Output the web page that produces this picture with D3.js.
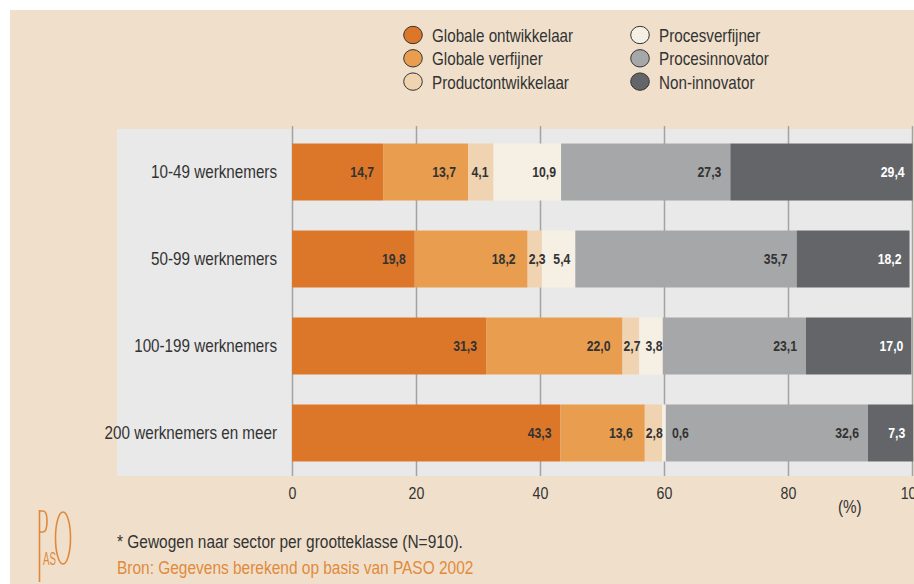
<!DOCTYPE html>
<html>
<head>
<meta charset="utf-8">
<script src="https://cdnjs.cloudflare.com/ajax/libs/d3/7.8.5/d3.min.js"></script>
<style>
  body { margin: 0; background: #fff; }
  svg { display: block; font-family: "Liberation Sans", Arial, sans-serif; }
  .tick line { stroke: #a3a3a3; stroke-width: 1.5; }
  .tick text { fill: #333; font-size: 16.8px; font-family: "Liberation Sans", Arial, sans-serif; }
  path.domain { stroke: none; fill: none; }
  text.cat { fill: #333; font-size: 18px; }
  text.val { font-size: 14.5px; font-weight: bold; }
  text.leg { fill: #333; font-size: 18px; }
</style>
</head>
<body>
<svg width="914" height="584"></svg>
<script>
var categories = ["10-49 werknemers", "50-99 werknemers", "100-199 werknemers", "200 werknemers en meer"];
var seriesNames = ["Globale ontwikkelaar", "Globale verfijner", "Productontwikkelaar", "Procesverfijner", "Procesinnovator", "Non-innovator"];
var globaleOntwikkelaar = [14.7, 19.8, 31.3, 43.3];
var globaleVerfijner = [13.7, 18.2, 22.0, 13.6];
var productontwikkelaar = [4.1, 2.3, 2.7, 2.8];
var procesverfijner = [10.9, 5.4, 3.8, 0.6];
var procesinnovator = [27.3, 35.7, 23.1, 32.6];
var nonInnovator = [29.4, 18.2, 17.0, 7.3];
var xTicks = [0, 20, 40, 60, 80, 100];
var colors = ["#dc772a", "#e89d4f", "#f0d3b0", "#f6efe4", "#a6a7a9", "#636569"];

var seriesValues = [globaleOntwikkelaar, globaleVerfijner, productontwikkelaar, procesverfijner, procesinnovator, nonInnovator];
// how far the value label sits before the end of its segment
var labelOffset = [9, 12, 5, 5, 9, 8];
// the original uses a condensed face; squeeze a normal one
var K = 0.845;

function place(sel, x, y) {
  return sel.attr("transform", "translate(" + x + "," + y + ") scale(" + K + ",1)");
}

var svg = d3.select("svg");

// background
svg.append("rect").attr("x", 10).attr("y", 10).attr("width", 904).attr("height", 574).attr("fill", "#f0e0cb");
svg.append("rect").attr("x", 117).attr("y", 129).attr("width", 795).attr("height", 347).attr("fill", "#e9e9e9");

var xScale = d3.scaleLinear().domain([0, 100]).range([292, 912]);
var yScale = d3.scaleBand().domain(categories).range([129, 476]).paddingInner(0.345).paddingOuter(0.167);

var xAxis = d3.axisBottom(xScale)
  .tickValues(xTicks)
  .tickSize(350)
  .tickPadding(11)
  .tickFormat(d3.format("d"));

var axisG = svg.append("g").attr("transform", "translate(0,126)").call(xAxis);
axisG.selectAll(".tick").filter(d => d === 0).select("line").attr("stroke", "#222").attr("stroke-width", 2);
axisG.selectAll(".tick text").attr("transform", "scale(" + K + ",1)");

// stacked bars
var rows = categories.map((c, i) => {
  var row = { cat: c };
  seriesNames.forEach((s, j) => { row[s] = seriesValues[j][i]; });
  return row;
});
var stack = d3.stack().keys(seriesNames)(rows);

stack.forEach((layer, j) => {
  svg.append("g").selectAll("rect").data(layer).join("rect")
    .attr("x", d => xScale(d[0]))
    .attr("y", d => yScale(d.data.cat))
    .attr("width", d => xScale(d[1]) - xScale(d[0]))
    .attr("height", yScale.bandwidth())
    .attr("fill", colors[j]);
});

// value labels, kept from running into the label before them
var lastEnd = categories.map(() => 0);
stack.forEach((layer, j) => {
  svg.append("g").selectAll("text").data(layer).join("text")
    .attr("class", "val")
    .attr("text-anchor", "end")
    .attr("fill", j === 5 ? "#fff" : "#333")
    .text(d => d3.format(".1f")(d[1] - d[0]).replace(".", ","))
    .each(function(d, i) {
      var x0 = xScale(d[0]), x1 = xScale(d[1]);
      var w = this.getComputedTextLength() * K;
      var x;
      if (x1 - x0 < 10) {
        x = x1 + 6 + w;
      } else {
        x = Math.max(x1 - labelOffset[j], x0 + w + 1, lastEnd[i] + 5 + w);
      }
      place(d3.select(this), x, yScale(d.data.cat) + yScale.bandwidth() / 2 + 5);
      lastEnd[i] = x;
    });
});

// category labels
svg.append("g").selectAll("text").data(categories).join("text")
  .attr("class", "cat")
  .attr("text-anchor", "end")
  .text(d => d)
  .each(function(d) { place(d3.select(this), 277, yScale(d) + yScale.bandwidth() / 2 + 6); });

place(svg.append("text").attr("class", "cat").text("(%)"), 838, 513);

// legend
var legend = svg.append("g");
seriesNames.forEach((s, i) => {
  var col = Math.floor(i / 3), row = i % 3;
  var lx = 413 + col * 227, ly = 35 + row * 23.3;
  legend.append("ellipse").attr("cx", lx).attr("cy", ly).attr("rx", 9.3).attr("ry", 8.7)
    .attr("fill", colors[i]).attr("stroke", "#333").attr("stroke-width", 1);
  place(legend.append("text").attr("class", "leg").text(s), lx + 19, ly + 7);
});

// footnote and source
place(svg.append("text").attr("fill", "#333").attr("font-size", "18.3px")
  .text("* Gewogen naar sector per grootteklasse (N=910)."), 117, 548);
place(svg.append("text").attr("fill", "#e08a3c").attr("font-size", "18.3px")
  .text("Bron: Gegevens berekend op basis van PASO 2002"), 117, 574);

// PASO logo
var logo = svg.append("g").attr("stroke", "#e0883a").attr("fill", "none").attr("stroke-width", 1.6);
logo.append("line").attr("x1", 39.5).attr("y1", 510).attr("x2", 39.5).attr("y2", 582);
logo.append("path").attr("d", "M39.5,511 L43,511 Q47,511 47,521 Q47,532 43,532 L39.5,532");
logo.append("ellipse").attr("cx", 63).attr("cy", 538).attr("rx", 7.5).attr("ry", 26);
svg.append("text").attr("x", 43).attr("y", 565).attr("fill", "#e0883a").attr("font-size", "19px")
  .attr("textLength", 13).attr("lengthAdjust", "spacingAndGlyphs").text("AS");
</script>
</body>
</html>
